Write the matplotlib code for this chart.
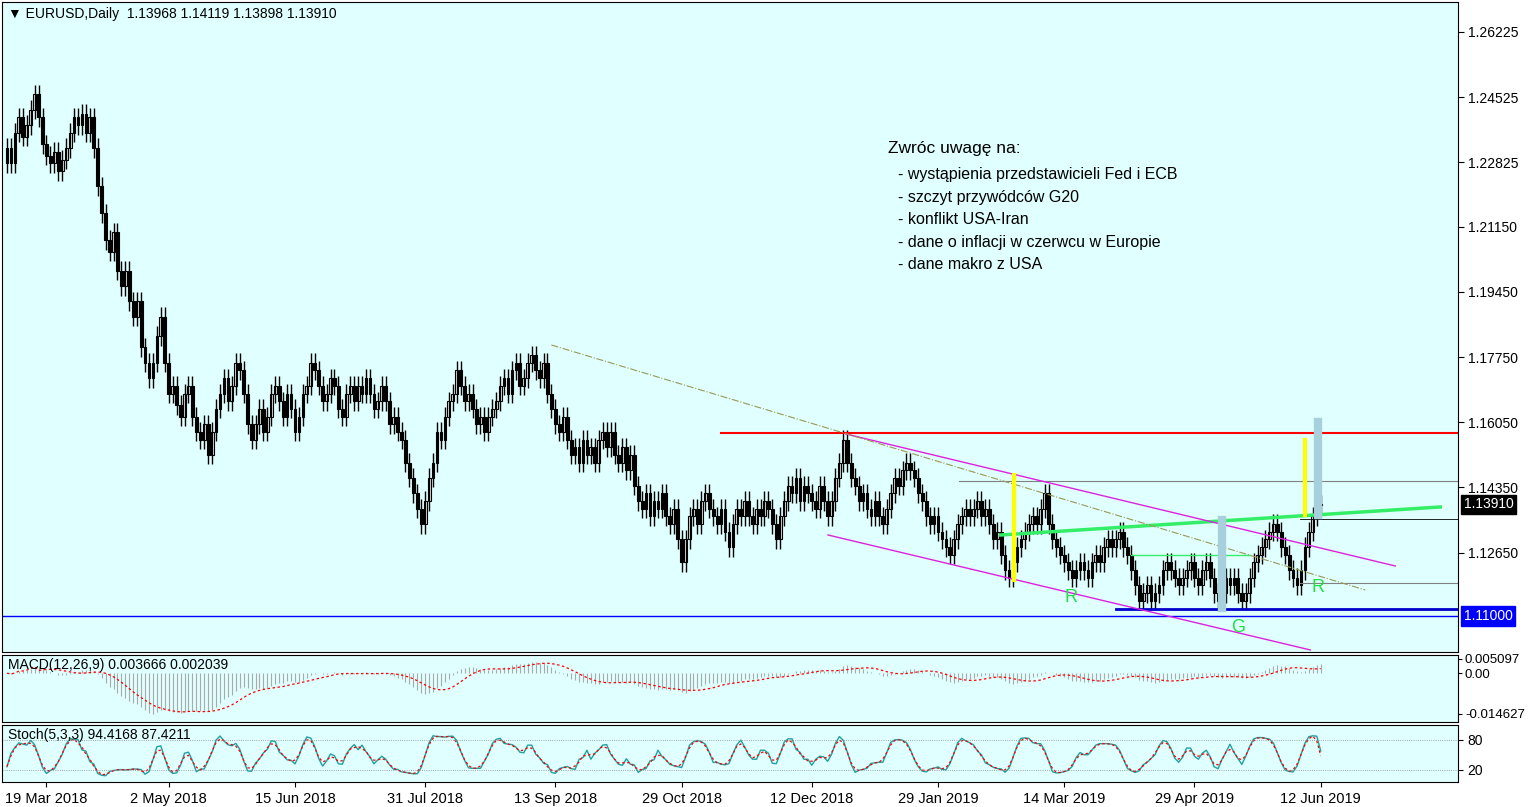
import numpy as np
import matplotlib
matplotlib.use("Agg")
import matplotlib.pyplot as plt
plt.rcParams["font.family"] = "Liberation Sans"

closes = [
1.232,1.228,1.236,1.240,1.235,1.238,1.242,1.246,1.240,1.233,
1.230,1.228,1.231,1.226,1.229,1.232,1.236,1.240,1.238,1.241,
1.236,1.240,1.232,1.222,1.215,1.208,1.205,1.210,1.200,1.196,
1.200,1.192,1.188,1.192,1.180,1.176,1.172,1.176,1.183,1.188,
1.176,1.168,1.170,1.165,1.162,1.168,1.170,1.162,1.158,1.156,
1.160,1.152,1.158,1.164,1.168,1.172,1.166,1.170,1.176,1.174,
1.168,1.160,1.156,1.160,1.164,1.158,1.162,1.168,1.170,1.166,
1.162,1.168,1.164,1.158,1.162,1.168,1.170,1.176,1.174,1.170,
1.166,1.168,1.172,1.170,1.164,1.162,1.168,1.170,1.166,1.170,
1.168,1.172,1.168,1.164,1.166,1.170,1.166,1.160,1.162,1.158,
1.156,1.150,1.146,1.142,1.138,1.134,1.140,1.146,1.150,1.158,
1.156,1.162,1.166,1.168,1.174,1.170,1.166,1.168,1.164,1.160,
1.162,1.158,1.162,1.164,1.166,1.170,1.172,1.168,1.174,1.176,
1.170,1.172,1.176,1.178,1.174,1.172,1.176,1.168,1.164,1.160,
1.158,1.162,1.156,1.152,1.154,1.150,1.156,1.152,1.154,1.150,
1.156,1.158,1.154,1.158,1.152,1.150,1.154,1.148,1.152,1.144,
1.140,1.138,1.142,1.136,1.140,1.138,1.142,1.136,1.134,1.138,
1.130,1.124,1.130,1.136,1.138,1.134,1.140,1.142,1.138,1.136,
1.134,1.138,1.132,1.128,1.134,1.138,1.136,1.140,1.136,1.134,
1.138,1.136,1.140,1.138,1.134,1.130,1.136,1.140,1.144,1.142,
1.146,1.140,1.144,1.142,1.140,1.138,1.144,1.140,1.136,1.140,
1.146,1.150,1.156,1.150,1.146,1.144,1.140,1.142,1.138,1.136,
1.140,1.136,1.134,1.138,1.142,1.146,1.144,1.148,1.150,1.148,
1.146,1.142,1.140,1.136,1.134,1.136,1.132,1.130,1.128,1.126,
1.130,1.134,1.136,1.138,1.136,1.138,1.140,1.136,1.138,1.134,
1.130,1.132,1.126,1.122,1.120,1.124,1.128,1.130,1.132,1.134,
1.136,1.134,1.138,1.142,1.134,1.130,1.128,1.126,1.124,1.122,
1.120,1.122,1.124,1.122,1.120,1.124,1.126,1.124,1.128,1.130,
1.128,1.130,1.132,1.128,1.126,1.122,1.118,1.114,1.116,1.118,
1.114,1.116,1.118,1.122,1.124,1.122,1.120,1.118,1.120,1.122,
1.124,1.120,1.118,1.122,1.124,1.120,1.116,1.114,1.116,1.120,
1.118,1.120,1.116,1.114,1.116,1.120,1.124,1.126,1.128,1.130,
1.132,1.134,1.132,1.128,1.126,1.122,1.120,1.118,1.122,1.128,
1.132,1.136,1.139,1.1391]
first_open = 1.228
date_labels = ["19 Mar 2018","2 May 2018","15 Jun 2018","31 Jul 2018","13 Sep 2018",
               "29 Oct 2018","12 Dec 2018","29 Jan 2019","14 Mar 2019","29 Apr 2019","12 Jun 2019"]
date_idx = [10,41,73,106,139,171,204,236,268,301,333]
price_ticks = [1.26225,1.24525,1.22825,1.21150,1.19450,1.17750,1.16050,1.14350,1.12650]
notes_title = "Zwróc uwagę na:"
notes = ["- wystąpienia przedstawicieli Fed i ECB","- szczyt przywódców G20","- konflikt USA-Iran",
         "- dane o inflacji w czerwcu w Europie","- dane makro z USA"]

W, H = 1530, 807
fig = plt.figure(figsize=(W/100, H/100), dpi=100)
BG = "#e0ffff"
fig.patch.set_facecolor("white")
def ax_px(l, t, r, b):
    return fig.add_axes([l/W, 1-b/H, (r-l)/W, (b-t)/H])

c = np.array(closes)
o = np.concatenate([[first_open], c[:-1]])
n = len(c)
xi = np.arange(n)
XL = (-1.27, 367.8)

ax = ax_px(2, 2, 1458, 652)
ax.set_facecolor(BG)
ax.set_xlim(*XL); ax.set_ylim(1.10061, 1.27007)
for i in range(n):
    lo_, hi_ = min(o[i], c[i]), max(o[i], c[i])
    ax.vlines(i, lo_-0.0025, hi_+0.0025, color="black", lw=1)
    up = c[i] >= o[i]
    ax.bar(i, max(hi_-lo_, 0.0003), bottom=lo_, width=0.7,
           color="white" if up else "black", edgecolor="black", lw=0.8)
def px(x): return (x-5)/3.95
def pr(y): return 1.11+(616-y)/3835.8
ax.plot([px(720), XL[1]], [pr(433)]*2, color="red", lw=1.5)
ax.axhline(1.1100, color="blue", lw=1)
ax.plot([px(1115), XL[1]], [pr(609)]*2, color="#0000cc", lw=2)
ax.plot([px(958), XL[1]], [pr(481)]*2, color="gray", lw=0.8)
ax.plot([px(1300), XL[1]], [pr(519)]*2, color="black", lw=0.6)
ax.plot([px(1300), XL[1]], [pr(583)]*2, color="gray", lw=0.8)
ax.plot([px(1000), px(1440)], [pr(535), pr(507)], color="#33ee66", lw=2.5)
ax.plot([px(1130), px(1250)], [pr(555)]*2, color="#33ee66", lw=1)
ax.plot([px(845), px(1395)], [pr(434), pr(566)], color="#dd22dd", lw=1)
ax.plot([px(827), px(1310)], [pr(535), pr(650)], color="#dd22dd", lw=1)
ax.plot([px(550), px(1365)], [pr(345), pr(590)], color="#999955", lw=0.8, ls="-.")
ax.plot([px(1013)]*2, [pr(475), pr(580)], color="yellow", lw=3)
ax.plot([px(1305)]*2, [pr(440), pr(515)], color="yellow", lw=3)
ax.plot([px(1222)]*2, [pr(520), pr(608)], color="#a8d0dc", lw=6)
ax.plot([px(1318)]*2, [pr(422), pr(515)], color="#a8d0dc", lw=6)
for x, y, t in [(1070, 598, "R"), (1318, 588, "R"), (1238, 628, "G")]:
    ax.text(px(x), pr(y), t, color="#22dd44", fontsize=13, ha="center", va="center")
ax.text(px(887), pr(149), notes_title, fontsize=12.5, va="center")
for k, t in enumerate(notes):
    ax.text(px(897), pr(175+22.5*k), t, fontsize=11.5, va="center")
ax.text(0.004, 0.992, "▼ EURUSD,Daily  1.13968 1.14119 1.13898 1.13910", transform=ax.transAxes,
        fontsize=10, va="top")
ax.yaxis.tick_right(); ax.set_yticks(price_ticks)
ax.set_yticklabels([f"{t:.5f}" for t in price_ticks], fontsize=10)
ax.set_xticks([])
ax.tick_params(axis="y", length=4)
for val, fc in [(1.1391, "black"), (1.1100, "blue")]:
    ax.text(1.004, (val-1.10061)/(1.27007-1.10061), f"{val:.5f}", transform=ax.transAxes,
            color="white", fontsize=10, va="center", ha="left",
            bbox=dict(boxstyle="square,pad=0.2", fc=fc, ec=fc))

# MACD
def ema(a, p):
    out = np.zeros_like(a); k = 2/(p+1); out[0] = a[0]
    for i in range(1, len(a)): out[i] = a[i]*k + out[i-1]*(1-k)
    return out
macd = ema(c, 12) - ema(c, 26)
sig = np.convolve(macd, np.ones(9)/9, mode="full")[:n]
sig[:8] = macd[:8]
ax2 = ax_px(2, 655, 1458, 722); ax2.set_facecolor(BG)
ax2.vlines(xi, 0, macd, color="#aaaaaa", lw=0.8)
ax2.plot(xi, sig, color="red", ls=(0, (2, 2)), lw=0.9)
ax2.set_xlim(*XL); ax2.set_ylim(-0.0175, 0.0065)
ax2.yaxis.tick_right(); ax2.set_xticks([])
ax2.set_yticks([0.005097, 0.0, -0.014627]); ax2.set_yticklabels(["0.005097", "0.00", "-0.014627"], fontsize=9.5)
ax2.tick_params(axis="y", length=3, pad=2)
ax2.text(0.004, 0.95, "MACD(12,26,9) 0.003666 0.002039", transform=ax2.transAxes, fontsize=10, va="top")

# Stochastic
hh = np.array([max(c[max(0, i-4):i+1]) + 0.0025 for i in range(n)])
ll = np.array([min(c[max(0, i-4):i+1]) - 0.0025 for i in range(n)])
raw = (c - ll) / (hh - ll) * 100
k3 = np.convolve(raw, np.ones(3)/3, mode="same")
d3 = np.convolve(k3, np.ones(3)/3, mode="same")
ax3 = ax_px(2, 725, 1458, 782); ax3.set_facecolor(BG)
ax3.plot(xi, k3, color="#20a0a0", lw=1)
ax3.plot(xi, d3, color="red", ls=(0, (2, 2)), lw=0.9)
ax3.axhline(80, color="#888888", lw=0.6, ls=":"); ax3.axhline(20, color="#888888", lw=0.6, ls=":")
ax3.set_xlim(*XL); ax3.set_ylim(-5, 110)
ax3.yaxis.tick_right()
ax3.set_yticks([80, 20]); ax3.set_yticklabels(["80", "20"], fontsize=10)
ax3.set_xticks(date_idx); ax3.set_xticklabels(date_labels, fontsize=10.5)
ax3.text(0.004, 0.95, "Stoch(5,3,3) 94.4168 87.4211", transform=ax3.transAxes, fontsize=10, va="top")
fig.savefig("out.png", dpi=100)
